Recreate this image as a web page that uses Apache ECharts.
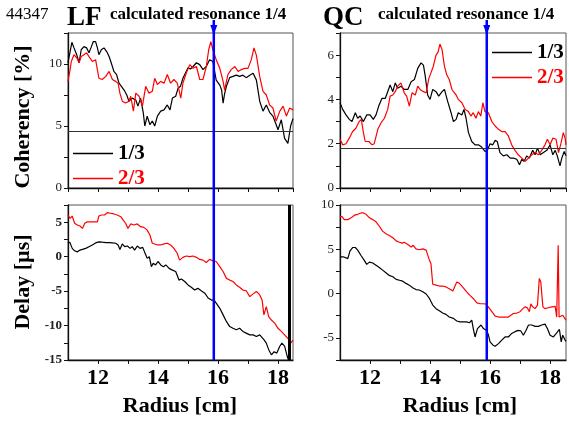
<!DOCTYPE html>
<html>
<head>
<meta charset="utf-8">
<script src="https://cdn.jsdelivr.net/npm/echarts@6/dist/echarts.min.js"></script>
<style>
  html, body { margin: 0; padding: 0; background: #fff; }
  #chart { width: 569px; height: 423px; }
</style>
</head>
<body>
<div id="chart"></div>
<script>
// Shot label, panel names and legend names
const shotNumber = '44347';
const panelNames = ['LF', 'QC'];
const resonanceText = 'calculated resonance 1/4';
const seriesNames = ['1/3', '2/3'];
const radiusTicks = [12, 14, 16, 18];

// Radial position of the calculated 1/4 resonance [cm]
const resonanceLF = 15.86;
const resonanceQC = 15.89;
// Coherency noise levels [%]
const levelLF = 4.56;
const levelQC = 1.8;
// End of the LF 1/3 delay profile [cm]
const lfDelayEnd = 18.37;

// LF coherency [%] vs radius [cm]
const lfCoh13 = [[11.0,10.1],[11.07,11.0],[11.13,11.75],[11.2,11.3],[11.29,10.75],[11.37,10.1],[11.44,11.15],[11.53,11.4],[11.62,11.3],[11.7,10.9],[11.78,11.4],[11.84,11.8],[11.92,11.8],[11.98,11.3],[12.03,10.75],[12.11,11.15],[12.2,11.3],[12.29,11.0],[12.37,10.6],[12.44,10.1],[12.53,9.4],[12.62,9.15],[12.7,8.45],[12.78,8.2],[12.87,7.9],[12.96,7.5],[13.03,7.0],[13.14,7.25],[13.26,7.1],[13.33,6.6],[13.42,7.25],[13.51,6.05],[13.56,5.0],[13.64,5.8],[13.73,5.1],[13.81,5.4],[13.89,5.0],[13.98,5.8],[14.09,6.2],[14.2,6.3],[14.31,6.7],[14.4,6.3],[14.48,7.25],[14.59,7.4],[14.67,8.05],[14.75,8.2],[14.83,8.85],[14.92,9.3],[15.0,9.7],[15.08,9.6],[15.17,9.8],[15.28,10.1],[15.39,9.95],[15.5,9.55],[15.61,9.8],[15.72,10.35],[15.83,10.2],[15.94,8.7],[16.06,8.3],[16.12,7.9],[16.17,6.85],[16.22,7.6],[16.28,8.2],[16.39,8.9],[16.5,9.0],[16.61,9.1],[16.72,9.0],[16.83,9.1],[16.94,8.9],[17.06,9.1],[17.17,9.25],[17.28,8.7],[17.39,7.0],[17.5,6.2],[17.61,6.7],[17.72,6.1],[17.83,5.8],[17.94,5.1],[18.0,4.7],[18.11,5.5],[18.22,4.0],[18.33,3.6],[18.38,3.5],[18.42,5.0],[18.5,5.6]];
const lfCoh23 = [[11.0,8.6],[11.07,9.55],[11.11,10.2],[11.2,10.75],[11.29,10.5],[11.37,10.1],[11.44,10.6],[11.53,10.75],[11.62,10.9],[11.7,10.6],[11.81,10.2],[11.92,10.35],[11.98,10.2],[12.03,8.85],[12.14,8.75],[12.26,9.0],[12.37,9.4],[12.48,8.75],[12.59,8.6],[12.67,8.45],[12.73,7.65],[12.81,7.0],[12.92,6.85],[13.03,7.0],[13.09,7.4],[13.18,6.2],[13.26,7.65],[13.37,7.4],[13.48,6.6],[13.59,8.2],[13.7,7.65],[13.81,7.8],[13.89,8.85],[13.98,8.35],[14.09,8.6],[14.2,8.45],[14.31,9.15],[14.42,8.45],[14.53,8.75],[14.64,8.45],[14.7,7.9],[14.76,7.25],[14.83,8.45],[14.94,9.25],[15.06,9.95],[15.17,9.65],[15.28,9.8],[15.39,8.75],[15.5,8.75],[15.61,9.8],[15.69,11.15],[15.76,11.8],[15.83,11.15],[15.94,10.35],[16.06,9.65],[16.17,8.6],[16.22,7.9],[16.33,9.15],[16.44,9.55],[16.56,9.8],[16.67,9.4],[16.78,9.55],[16.89,9.65],[17.0,9.65],[17.11,10.35],[17.2,11.3],[17.28,10.7],[17.39,9.0],[17.5,7.8],[17.61,7.5],[17.72,6.7],[17.83,6.45],[17.94,5.4],[18.06,6.2],[18.17,6.6],[18.28,5.8],[18.39,6.45],[18.5,6.3]];

// QC coherency [%] vs radius [cm]
const qcCoh13 = [[11.0,3.85],[11.09,3.55],[11.2,3.3],[11.31,3.1],[11.4,3.0],[11.51,3.4],[11.59,3.15],[11.67,3.25],[11.78,3.0],[11.89,3.3],[12.0,3.3],[12.11,3.1],[12.2,3.3],[12.29,3.7],[12.4,4.05],[12.51,4.05],[12.59,4.35],[12.67,4.65],[12.76,4.35],[12.84,4.75],[12.92,4.5],[13.03,4.6],[13.14,4.45],[13.26,4.45],[13.37,4.8],[13.48,4.9],[13.59,5.4],[13.7,5.65],[13.78,5.55],[13.84,5.05],[13.92,4.2],[14.0,4.0],[14.09,4.45],[14.2,4.35],[14.29,4.15],[14.4,4.35],[14.48,4.45],[14.59,3.9],[14.7,3.4],[14.78,3.0],[14.87,3.1],[14.94,3.4],[15.06,3.3],[15.13,3.55],[15.2,3.15],[15.28,2.5],[15.39,2.1],[15.5,1.95],[15.61,1.95],[15.72,1.85],[15.83,1.65],[15.91,1.7],[16.0,2.0],[16.09,1.95],[16.17,2.15],[16.24,2.1],[16.33,1.6],[16.44,1.45],[16.56,1.5],[16.67,1.35],[16.78,1.35],[16.89,1.3],[16.98,1.05],[17.06,1.3],[17.13,1.2],[17.22,1.45],[17.31,1.35],[17.42,1.7],[17.5,1.5],[17.58,1.8],[17.67,1.5],[17.78,1.6],[17.89,1.7],[18.0,1.95],[18.09,1.5],[18.17,1.7],[18.24,1.45],[18.33,1.0],[18.39,1.35],[18.47,1.65],[18.53,1.45]];
const qcCoh23 = [[11.0,2.2],[11.09,1.95],[11.2,2.0],[11.31,2.25],[11.42,2.55],[11.53,2.7],[11.64,3.0],[11.71,3.1],[11.78,2.5],[11.84,2.1],[11.96,2.1],[12.07,1.95],[12.14,2.0],[12.26,2.65],[12.37,2.95],[12.48,3.15],[12.59,3.55],[12.67,4.15],[12.76,4.2],[12.84,4.35],[12.92,4.6],[13.03,4.75],[13.14,4.3],[13.22,4.15],[13.31,3.7],[13.4,4.3],[13.51,4.2],[13.59,4.6],[13.67,4.45],[13.78,4.35],[13.87,4.3],[13.96,4.95],[14.03,5.2],[14.11,5.5],[14.2,6.0],[14.27,6.15],[14.33,6.5],[14.4,6.25],[14.48,5.5],[14.56,5.1],[14.64,4.9],[14.73,4.45],[14.78,4.35],[14.87,4.2],[14.94,4.0],[15.06,3.85],[15.17,3.55],[15.28,3.45],[15.36,3.25],[15.44,3.4],[15.53,3.15],[15.61,3.45],[15.69,3.25],[15.76,3.85],[15.83,3.45],[15.94,3.4],[16.06,3.0],[16.17,2.8],[16.28,2.65],[16.39,2.55],[16.5,2.55],[16.61,2.35],[16.72,1.95],[16.83,1.7],[16.94,1.5],[17.06,1.35],[17.17,1.2],[17.28,1.35],[17.39,1.5],[17.5,1.6],[17.61,1.5],[17.72,1.7],[17.83,1.95],[17.91,2.2],[18.0,1.95],[18.09,2.25],[18.2,2.2],[18.28,1.6],[18.36,2.0],[18.44,2.5],[18.5,2.25],[18.53,1.95]];

// LF delay [µs] vs radius [cm]
const lfDelay13 = [[11.0,2.15],[11.07,2.0],[11.14,1.2],[11.22,0.85],[11.31,0.7],[11.4,0.95],[11.48,1.05],[11.59,1.2],[11.7,1.45],[11.81,1.7],[11.92,2.0],[12.03,2.15],[12.14,2.1],[12.26,2.05],[12.37,2.05],[12.48,2.0],[12.59,1.95],[12.67,1.7],[12.73,1.05],[12.81,1.85],[12.89,1.45],[12.98,1.55],[13.07,1.2],[13.14,1.45],[13.22,0.95],[13.31,1.55],[13.4,1.2],[13.49,1.35],[13.58,0.4],[13.64,-0.25],[13.71,0.0],[13.78,-1.45],[13.84,-0.95],[13.92,-1.2],[14.0,-0.7],[14.09,-1.2],[14.18,-1.45],[14.26,-1.2],[14.37,-1.7],[14.48,-1.95],[14.59,-2.15],[14.7,-3.4],[14.78,-3.25],[14.89,-3.6],[15.0,-4.1],[15.11,-4.45],[15.22,-4.85],[15.33,-4.6],[15.44,-4.95],[15.56,-5.3],[15.67,-6.0],[15.78,-6.3],[15.87,-6.3],[15.94,-6.75],[16.06,-7.5],[16.17,-8.45],[16.28,-9.4],[16.39,-10.15],[16.5,-10.4],[16.61,-10.6],[16.72,-10.4],[16.83,-10.85],[16.94,-11.1],[17.06,-11.35],[17.17,-11.35],[17.28,-11.6],[17.39,-11.35],[17.44,-11.1],[17.53,-12.05],[17.61,-12.55],[17.69,-13.5],[17.78,-14.25],[17.87,-13.8],[17.96,-14.0],[18.06,-13.0],[18.13,-12.55],[18.22,-13.0],[18.31,-14.5],[18.35,-15.0]];
const lfDelay23 = [[11.0,6.05],[11.07,5.55],[11.14,5.9],[11.22,4.85],[11.31,4.6],[11.4,4.45],[11.48,4.1],[11.56,4.85],[11.64,5.05],[11.76,5.05],[11.87,5.05],[11.98,5.05],[12.03,5.9],[12.11,6.05],[12.22,6.05],[12.31,6.4],[12.42,6.3],[12.53,6.2],[12.64,6.05],[12.76,5.8],[12.84,5.3],[12.92,4.85],[13.0,4.1],[13.09,4.75],[13.2,4.6],[13.31,4.75],[13.42,4.35],[13.53,4.25],[13.64,3.85],[13.73,3.15],[13.81,1.95],[13.87,1.7],[13.98,1.7],[14.09,1.7],[14.2,1.85],[14.31,1.95],[14.42,1.7],[14.53,1.2],[14.64,0.5],[14.72,-0.5],[14.83,-0.1],[14.94,0.1],[15.06,0.0],[15.17,0.1],[15.28,-0.1],[15.39,-0.4],[15.5,-0.5],[15.61,-0.85],[15.72,-0.4],[15.83,-0.6],[15.94,-0.7],[16.06,-1.45],[16.17,-2.15],[16.28,-3.15],[16.39,-3.4],[16.5,-3.6],[16.61,-4.1],[16.72,-4.45],[16.83,-4.85],[16.94,-4.95],[17.06,-5.8],[17.17,-5.4],[17.28,-5.05],[17.39,-5.55],[17.47,-6.3],[17.53,-8.45],[17.61,-7.25],[17.69,-8.7],[17.78,-9.2],[17.89,-9.65],[18.0,-10.4],[18.11,-10.85],[18.22,-11.35],[18.33,-11.85],[18.42,-12.55],[18.5,-12.1]];

// QC delay [µs] vs radius [cm]
const qcDelay13 = [[11.0,4.15],[11.11,4.15],[11.26,3.95],[11.33,4.8],[11.42,5.2],[11.51,5.2],[11.59,4.9],[11.7,4.3],[11.81,3.75],[11.89,3.3],[11.98,3.55],[12.09,3.45],[12.2,3.2],[12.31,2.95],[12.42,2.65],[12.53,2.35],[12.64,2.05],[12.76,1.9],[12.87,1.6],[12.98,1.5],[13.09,1.4],[13.2,1.15],[13.31,0.95],[13.42,0.65],[13.53,0.45],[13.64,0.4],[13.76,0.2],[13.87,-0.05],[13.98,-0.55],[14.09,-1.3],[14.2,-1.7],[14.31,-1.95],[14.42,-2.2],[14.53,-2.35],[14.64,-2.65],[14.78,-2.8],[14.89,-3.1],[15.0,-3.2],[15.11,-3.2],[15.22,-3.2],[15.31,-3.3],[15.39,-3.0],[15.44,-3.95],[15.5,-4.9],[15.58,-3.95],[15.64,-4.15],[15.7,-3.55],[15.78,-3.95],[15.87,-4.15],[15.94,-4.6],[16.0,-5.45],[16.09,-5.8],[16.17,-5.95],[16.28,-5.65],[16.39,-5.25],[16.5,-4.9],[16.61,-4.9],[16.72,-4.5],[16.83,-4.3],[16.94,-4.15],[17.02,-4.2],[17.11,-4.7],[17.2,-4.15],[17.28,-3.55],[17.39,-3.55],[17.5,-3.7],[17.61,-3.7],[17.72,-3.55],[17.83,-3.45],[17.91,-3.95],[18.0,-4.7],[18.11,-4.9],[18.22,-4.45],[18.31,-4.05],[18.37,-5.45],[18.42,-4.7],[18.5,-5.25],[18.53,-5.4]];
const qcDelay23 = [[11.0,8.65],[11.07,8.7],[11.14,8.35],[11.26,8.35],[11.37,8.55],[11.48,8.85],[11.59,8.95],[11.7,9.1],[11.78,9.1],[11.87,8.95],[11.98,8.55],[12.09,8.35],[12.2,8.1],[12.31,7.6],[12.42,7.05],[12.53,6.75],[12.64,6.55],[12.76,6.3],[12.87,5.95],[12.98,5.8],[13.07,5.7],[13.14,5.8],[13.26,5.55],[13.37,5.25],[13.44,5.45],[13.53,5.05],[13.64,4.95],[13.76,5.05],[13.87,4.9],[13.93,4.95],[13.98,3.75],[14.03,3.4],[14.09,1.05],[14.2,0.95],[14.31,0.85],[14.42,0.85],[14.53,0.75],[14.64,0.55],[14.76,0.3],[14.8,0.3],[14.89,1.3],[14.98,1.15],[15.11,0.65],[15.22,0.2],[15.33,-0.2],[15.44,-0.55],[15.56,-1.05],[15.67,-1.15],[15.78,-1.15],[15.87,-1.2],[15.94,-1.5],[16.06,-2.05],[16.17,-2.55],[16.28,-2.65],[16.44,-2.65],[16.61,-2.65],[16.69,-2.45],[16.78,-2.25],[16.89,-2.2],[17.0,-2.05],[17.09,-1.7],[17.17,-1.5],[17.24,-1.6],[17.31,-2.05],[17.36,-1.15],[17.42,-1.5],[17.5,-1.7],[17.58,-1.3],[17.64,1.7],[17.69,1.3],[17.76,-1.5],[17.83,-1.7],[17.94,-1.6],[18.06,-1.5],[18.17,-1.45],[18.22,-2.65],[18.27,5.45],[18.3,-2.65],[18.36,-2.45],[18.42,-2.45],[18.5,-2.85],[18.53,-3.0]];

const SERIF = "'Liberation Serif', 'Times New Roman', 'DejaVu Serif', serif";
const BLACK = '#000000';
const RED = '#ff0000';
const BLUE = '#0000ff';

const isMultiple = (v, step) => Math.abs(v / step - Math.round(v / step)) < 1e-6;

function makeXAxis(gridIndex, max, showLabels) {
  return {
    type: 'value', gridIndex, min: 11, max, interval: 1,
    axisLine: { show: true, onZero: false, lineStyle: { color: '#111', width: 1.3 } },
    axisTick: { show: true, inside: false, length: 4, lineStyle: { color: '#111', width: 1 } },
    splitLine: { show: false },
    axisLabel: {
      show: showLabels, showMinLabel: false, showMaxLabel: false, margin: 7,
      formatter: v => radiusTicks.includes(v) ? String(v) : '',
      fontFamily: SERIF, fontWeight: 'bold', fontSize: 22, color: '#000'
    }
  };
}

function makeYAxis(gridIndex, min, max, interval, labelStep, bold) {
  return {
    type: 'value', gridIndex, min, max, interval,
    axisLine: { show: true, onZero: false, lineStyle: { color: '#111', width: 1.3 } },
    axisTick: { show: true, length: 4, lineStyle: { color: '#111', width: 1 } },
    splitLine: { show: false },
    axisLabel: {
      margin: 6, showMaxLabel: true,
      formatter: v => isMultiple(v, labelStep) ? String(v) : '',
      fontFamily: SERIF, fontWeight: bold ? 'bold' : 'normal', fontSize: 13, color: '#222'
    }
  };
}

function line(name, data, color, xi, yi, extra) {
  return Object.assign({
    type: 'line', name, data, xAxisIndex: xi, yAxisIndex: yi,
    showSymbol: false, symbol: 'none', clip: true,
    lineStyle: { color, width: 1.2 }, itemStyle: { color }
  }, extra || {});
}

function levelLine(value) {
  return {
    symbol: 'none', silent: true, animation: false,
    label: { show: false },
    lineStyle: { color: '#333', width: 1, type: 'solid' },
    data: [{ yAxis: value }]
  };
}

const gridBox = { show: true, borderColor: '#555', borderWidth: 1, backgroundColor: 'transparent' };

// Legend entries drawn as a plain line segment followed by the name
const legendBase = {
  show: true, orient: 'vertical', icon: 'rect', itemWidth: 40, itemHeight: 1.3, itemGap: 4,
  padding: 0,
  textStyle: { fontFamily: SERIF, fontWeight: 'bold', fontSize: 21, lineHeight: 21 },
  data: [
    { name: seriesNames[0], textStyle: { color: BLACK } },
    { name: seriesNames[1], textStyle: { color: RED } }
  ],
  selectedMode: false
};

const chart = echarts.init(document.getElementById('chart'), null, { renderer: 'canvas' });

const option = {
  animation: false,
  backgroundColor: '#fff',
  grid: [
    Object.assign({ left: 68, top: 33, width: 225, height: 155 }, gridBox),
    Object.assign({ left: 340, top: 33, width: 226, height: 155 }, gridBox),
    Object.assign({ left: 68, top: 205, width: 225, height: 155 }, gridBox),
    Object.assign({ left: 340, top: 205, width: 226, height: 155 }, gridBox)
  ],
  xAxis: [
    makeXAxis(0, 18.5, false),
    makeXAxis(1, 18.53, false),
    makeXAxis(2, 18.5, true),
    makeXAxis(3, 18.53, true)
  ],
  yAxis: [
    makeYAxis(0, 0, 12.5, 2.5, 5, false),
    makeYAxis(1, 0, 7, 1, 2, false),
    makeYAxis(2, -15, 7.5, 2.5, 5, true),
    makeYAxis(3, -7.5, 10, 2.5, 5, false)
  ],
  legend: [
    Object.assign({ left: 73, top: 143 }, legendBase),
    Object.assign({ left: 492, top: 42 }, legendBase)
  ],
  series: [
    line(seriesNames[0], lfCoh13, BLACK, 0, 0, { markLine: levelLine(levelLF) }),
    line(seriesNames[1], lfCoh23, RED, 0, 0),
    line(seriesNames[0], qcCoh13, BLACK, 1, 1, { markLine: levelLine(levelQC) }),
    line(seriesNames[1], qcCoh23, RED, 1, 1),
    line(seriesNames[0], lfDelay13, BLACK, 2, 2, {
      markLine: {
        symbol: 'none', silent: true, label: { show: false },
        lineStyle: { color: BLACK, width: 3, type: 'solid' },
        data: [{ xAxis: lfDelayEnd }]
      }
    }),
    line(seriesNames[1], lfDelay23, RED, 2, 2),
    line(seriesNames[0], qcDelay13, BLACK, 3, 3),
    line(seriesNames[1], qcDelay23, RED, 3, 3)
  ]
};

chart.setOption(option);

// Titles, axis names and the resonance markers spanning both rows
function resonanceMarker(xAxisIndex, value) {
  const x = chart.convertToPixel({ xAxisIndex }, value);
  const yTop = chart.convertToPixel({ yAxisIndex: 0 }, 12.5) - 13;
  const yBottom = chart.convertToPixel({ yAxisIndex: 2 }, -15);
  return [
    { type: 'line', z: 50, shape: { x1: x, y1: yTop, x2: x, y2: yBottom },
      style: { stroke: BLUE, lineWidth: 2.5 } },
    { type: 'polygon', z: 51, shape: { points: [[x - 3.5, yTop + 5], [x + 3.5, yTop + 5], [x, yTop + 15]] },
      style: { fill: BLUE } }
  ];
}

function label(text, x, y, size, bold, extra) {
  return Object.assign({
    type: 'text', x, y, z: 60,
    style: Object.assign({
      text, fill: '#000', fontFamily: SERIF, fontSize: size,
      fontWeight: bold ? 'bold' : 'normal', textAlign: 'left', textVerticalAlign: 'middle'
    }, (extra && extra.style) || {})
  }, extra && extra.rotation !== undefined ? { rotation: extra.rotation } : {});
}

const centered = { style: { textAlign: 'center', textVerticalAlign: 'middle' } };
const rotated = { rotation: Math.PI / 2, style: { textAlign: 'center', textVerticalAlign: 'middle' } };

chart.setOption({
  graphic: [
    label(shotNumber, 6, 15, 17, false),
    label(panelNames[0], 67, 18, 27, true),
    label(resonanceText, 110, 15, 17, true),
    label(panelNames[1], 323, 18, 27, true),
    label(resonanceText, 378, 15, 17, true),
    label('Coherency [%]', 23, 117, 22, true, rotated),
    label('Delay [µs]', 23, 282, 22, true, rotated),
    label('Radius [cm]', 180, 406, 22, true, centered),
    label('Radius [cm]', 460, 406, 22, true, centered)
  ].concat(resonanceMarker(0, resonanceLF), resonanceMarker(1, resonanceQC))
});
</script>
</body>
</html>
